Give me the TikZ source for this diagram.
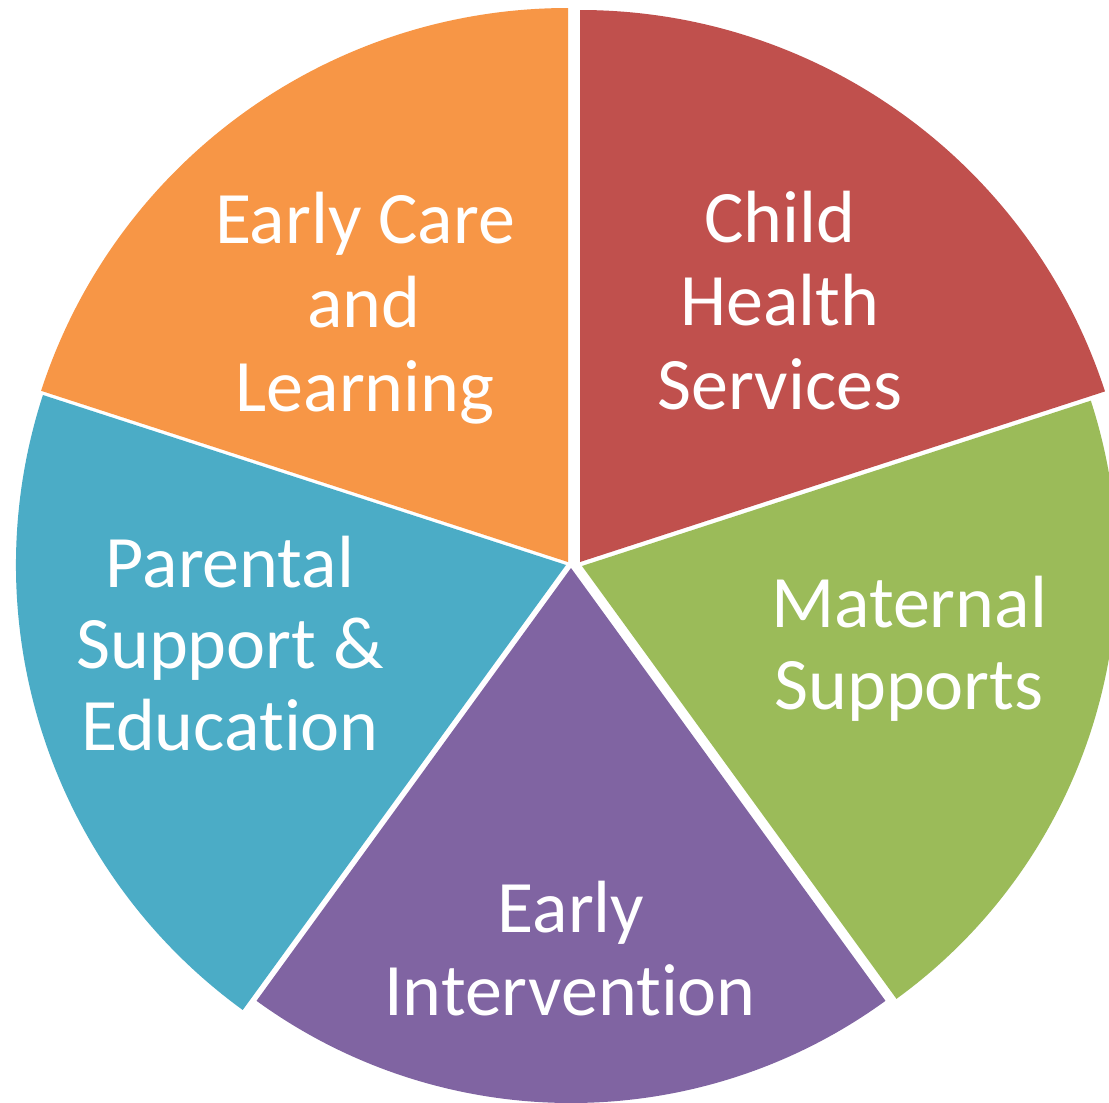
\documentclass[tikz,border=0pt]{standalone}
\usepackage{fontspec}
\setmainfont[Ligatures={NoCommon}]{Carlito}
\definecolor{sorange}{HTML}{F79646}
\definecolor{sred}{HTML}{C0504D}
\definecolor{sgreen}{HTML}{9BBB59}
\definecolor{spurple}{HTML}{8064A2}
\definecolor{sblue}{HTML}{4BACC6}
\begin{document}
\begin{tikzpicture}[x=1pt,y=-1pt,
  lbl/.style={text=white,anchor=base,inner sep=0pt,font=\fontsize{74}{83}\selectfont}]
\useasboundingbox (0,0) rectangle (1109,1103);
\fill[white] (0,0) rectangle (1109,1103);
\clip (0,0) rectangle (1109,1103);
% slices
\fill[sorange] (568,562) -- ++(-162:554) arc[start angle=-162,end angle=-90,radius=554] -- cycle;
\fill[sred] (580,562) -- ++(-90:552) arc[start angle=-90,end angle=-18,radius=552] -- cycle;
\fill[sgreen] (582,566) -- ++(-18:535) arc[start angle=-18,end angle=54,radius=535] -- cycle;
\fill[spurple] (571,568) -- ++(54:535) arc[start angle=54,end angle=126,radius=535] -- cycle;
\fill[sblue] (566,565) -- ++(126:550) arc[start angle=126,end angle=198,radius=550] -- cycle;
% labels
\node[lbl] (ec1) at (365,243) {Early Care};
\node[lbl] (ec2) at (364,327) {and};
\node[lbl] (ec3) at (365,411) {Learning};
\node[lbl] (ch1) at (780,242) {Child};
\node[lbl] (ch2) at (780,325) {Health};
\node[lbl] (ch3) at (780,409) {Services};
\node[lbl] (ms1) at (909,627) {Maternal};
\node[lbl] (ms2) at (909,709) {Supports};
\node[lbl] (ei1) at (571,932) {Early};
\node[lbl] (ei2) at (570,1015) {Intervention};
\node[lbl] (ps1) at (230,587) {Parental};
\node[lbl] (ps2) at (230,668) {Support \&};
\node[lbl] (ps3) at (230,750) {Education};
\end{tikzpicture}
\end{document}
